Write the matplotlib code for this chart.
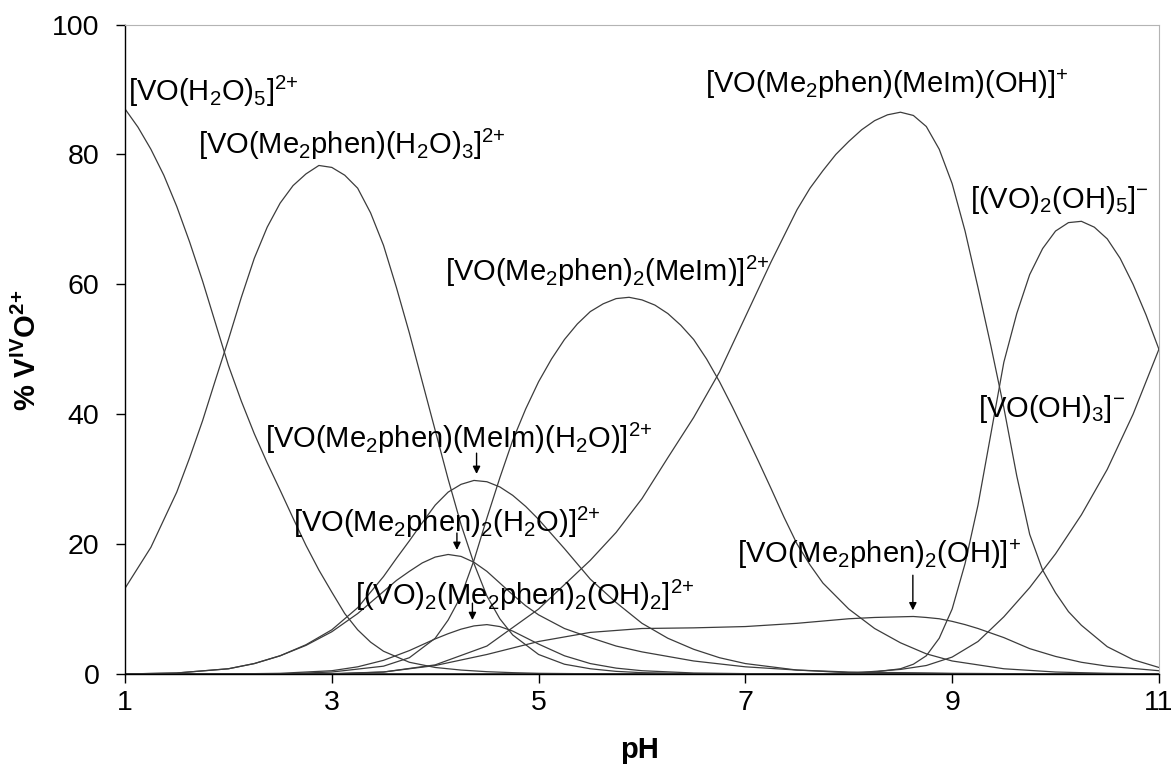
import matplotlib
matplotlib.use("Agg")
import matplotlib.pyplot as plt

plt.rcParams['font.family'] = ['Liberation Sans', 'DejaVu Sans']
plt.rcParams['mathtext.fontset'] = 'custom'
plt.rcParams['mathtext.rm'] = 'Liberation Sans'
plt.rcParams['mathtext.it'] = 'Liberation Sans'
plt.rcParams['mathtext.bf'] = 'Liberation Sans:bold'
plt.rcParams['mathtext.default'] = 'regular'

# each species: pH points and % VO
ph_a = [1.0, 1.125, 1.25, 1.375, 1.5, 1.625, 1.75, 1.875, 2.0, 2.125, 2.25, 2.375,
        2.5, 2.625, 2.75, 2.875, 3.0, 3.125, 3.25, 3.375, 3.5, 3.75, 4.0, 4.25,
        4.5, 4.75, 5.0, 5.5, 6.0, 11.0]
vo_h2o5 = [87, 84.2, 80.8, 76.8, 72, 66.5, 60.5, 54, 47.5, 42, 37, 32.5,
           28.3, 24, 19.8, 16, 12.6, 9.3, 6.8, 4.9, 3.5, 1.8, 1.0, 0.6,
           0.35, 0.2, 0.1, 0.03, 0, 0]

ph_b = [1.0, 1.25, 1.5, 1.625, 1.75, 1.875, 2.0, 2.125, 2.25, 2.375, 2.5, 2.625,
        2.75, 2.875, 3.0, 3.125, 3.25, 3.375, 3.5, 3.625, 3.75, 3.875, 4.0, 4.125,
        4.25, 4.375, 4.5, 4.625, 4.75, 5.0, 5.25, 5.5, 5.75, 6.0, 6.5, 7.0, 11.0]
vo_l_h2o3 = [13.2, 19.5, 28, 33.3, 39, 45.3, 51.5, 58, 64, 68.8, 72.5, 75.2,
             77, 78.3, 78.0, 76.8, 74.8, 71, 66, 59.5, 52.5, 45, 37.5, 30,
             23, 17, 12, 8.5, 6, 3, 1.5, 0.8, 0.4, 0.2, 0.05, 0, 0]

ph_c = [1.0, 1.5, 2.0, 2.25, 2.5, 2.75, 3.0, 3.25, 3.5, 3.625, 3.75, 3.875,
        4.0, 4.125, 4.25, 4.375, 4.5, 4.625, 4.75, 4.875, 5.0, 5.25, 5.5, 5.75,
        6.0, 6.25, 6.5, 6.75, 7.0, 7.5, 8.0, 9.0, 10.0, 11.0]
vo_l_meim_h2o = [0, 0.15, 0.8, 1.6, 2.8, 4.5, 6.8, 10.2, 15, 17.8, 20.5, 23.3,
                 26, 28, 29.2, 29.8, 29.6, 28.8, 27.5, 25.8, 23.8, 19.3, 14.6, 11,
                 7.8, 5.5, 3.8, 2.5, 1.6, 0.6, 0.2, 0.05, 0, 0]

ph_d = [1.0, 1.5, 2.0, 2.25, 2.5, 2.75, 3.0, 3.25, 3.5, 3.625, 3.75, 3.875,
        4.0, 4.125, 4.25, 4.375, 4.5, 4.625, 4.75, 4.875, 5.0, 5.25, 5.5, 5.75,
        6.0, 6.5, 7.0, 7.5, 8.0, 9.0, 10.0, 11.0]
vo_l2_h2o = [0, 0.15, 0.8, 1.6, 2.8, 4.4, 6.5, 9.3, 12.7, 14.4, 15.8, 17.1,
             18, 18.4, 18.1, 17.2, 15.8, 14, 12.2, 10.5, 9.1, 7, 5.6, 4.3,
             3.4, 2.0, 1.1, 0.6, 0.3, 0.1, 0, 0]

ph_e = [1.0, 2.0, 2.5, 3.0, 3.25, 3.5, 3.75, 4.0, 4.125, 4.25, 4.375, 4.5,
        4.625, 4.75, 4.875, 5.0, 5.25, 5.5, 5.75, 6.0, 6.5, 7.0, 7.5, 11.0]
vo2_l2_oh2 = [0, 0, 0.1, 0.5, 1.1, 2.1, 3.6, 5.4, 6.2, 6.9, 7.4, 7.6,
              7.3, 6.6, 5.6, 4.6, 2.8, 1.6, 0.9, 0.5, 0.15, 0.05, 0, 0]

ph_f = [1.0, 2.5, 3.0, 3.5, 3.75, 4.0, 4.125, 4.25, 4.375, 4.5, 4.625, 4.75,
        4.875, 5.0, 5.125, 5.25, 5.375, 5.5, 5.625, 5.75, 5.875, 6.0, 6.125, 6.25,
        6.375, 6.5, 6.625, 6.75, 6.875, 7.0, 7.125, 7.25, 7.375, 7.5, 7.625, 7.75,
        8.0, 8.25, 8.5, 8.75, 9.0, 9.5, 10.0, 10.5, 11.0]
vo_l2_meim = [0, 0, 0.3, 1.2, 2.5, 5.5, 8.3, 12, 17.5, 24, 30.2, 36,
              40.8, 45, 48.5, 51.5, 53.9, 55.8, 57, 57.8, 58, 57.6, 56.8, 55.5,
              53.7, 51.5, 48.5, 45, 41.1, 37, 32.8, 28.5, 24.1, 20, 16.8, 14,
              10, 7, 4.8, 3.1, 2.0, 0.8, 0.3, 0.1, 0]

ph_g = [1.0, 3.0, 3.5, 4.0, 4.5, 5.0, 5.5, 5.75, 6.0, 6.25, 6.5, 6.75,
        7.0, 7.25, 7.5, 7.625, 7.75, 7.875, 8.0, 8.125, 8.25, 8.375, 8.5, 8.625,
        8.75, 8.875, 9.0, 9.125, 9.25, 9.375, 9.5, 9.625, 9.75, 9.875, 10.0, 10.125,
        10.25, 10.5, 10.75, 11.0]
vo_l_meim_oh = [0, 0.05, 0.3, 1.4, 4.3, 10, 17.5, 21.8, 27, 33.3, 39.5, 46.5,
                55, 63.5, 71.5, 74.8, 77.5, 80, 82, 83.8, 85.2, 86.1, 86.5, 86,
                84.3, 80.8, 75.5, 68.2, 59.5, 50.5, 41, 30.5, 21.5, 16, 12.5, 9.6,
                7.5, 4.2, 2.2, 1.0]

ph_h = [1.0, 3.0, 3.5, 4.0, 4.5, 5.0, 5.5, 6.0, 6.5, 7.0, 7.5, 8.0,
        8.25, 8.5, 8.625, 8.75, 8.875, 9.0, 9.125, 9.25, 9.5, 9.75, 10.0, 10.25,
        10.5, 11.0]
vo_l2_oh = [0, 0, 0.3, 1.3, 3.0, 5.0, 6.4, 7.0, 7.1, 7.3, 7.8, 8.5,
            8.7, 8.8, 8.85, 8.7, 8.5, 8.1, 7.6, 7.0, 5.6, 3.9, 2.7, 1.8,
            1.2, 0.5]

ph_i = [1.0, 7.5, 8.0, 8.25, 8.5, 8.625, 8.75, 8.875, 9.0, 9.125, 9.25, 9.375,
        9.5, 9.625, 9.75, 9.875, 10.0, 10.125, 10.25, 10.375, 10.5, 10.625, 10.75, 10.875,
        11.0]
vo2_oh5 = [0, 0, 0.1, 0.3, 0.8, 1.5, 2.8, 5.5, 10, 17, 26, 37,
           48, 55.5, 61.5, 65.5, 68.2, 69.5, 69.7, 68.8, 67, 64, 60, 55.3,
           50]

ph_j = [1.0, 7.5, 8.0, 8.5, 8.75, 9.0, 9.25, 9.5, 9.75, 10.0, 10.25, 10.5,
        10.75, 11.0]
vo_oh3 = [0, 0, 0.1, 0.7, 1.3, 2.6, 5.0, 8.8, 13.3, 18.5, 24.5, 31.5,
          40, 50]

curves = [(ph_a, vo_h2o5), (ph_b, vo_l_h2o3), (ph_c, vo_l_meim_h2o),
          (ph_d, vo_l2_h2o), (ph_e, vo2_l2_oh2), (ph_f, vo_l2_meim),
          (ph_g, vo_l_meim_oh), (ph_h, vo_l2_oh), (ph_i, vo2_oh5), (ph_j, vo_oh3)]

# labels: text, left pH, baseline %
label_texts = [
    r'[VO(H$_2$O)$_5$]$^{2{+}}$',
    r'[VO(Me$_2$phen)(H$_2$O)$_3$]$^{2{+}}$',
    r'[VO(Me$_2$phen)(MeIm)(OH)]$^{+}$',
    r'[(VO)$_2$(OH)$_5$]$^{-}$',
    r'[VO(Me$_2$phen)$_2$(MeIm)]$^{2{+}}$',
    r'[VO(OH)$_3$]$^{-}$',
    r'[VO(Me$_2$phen)(MeIm)(H$_2$O)]$^{2{+}}$',
    r'[VO(Me$_2$phen)$_2$(H$_2$O)]$^{2{+}}$',
    r'[(VO)$_2$(Me$_2$phen)$_2$(OH)$_2$]$^{2{+}}$',
    r'[VO(Me$_2$phen)$_2$(OH)]$^{+}$',
]
label_x = [1.03, 1.71, 6.61, 9.17, 4.09, 9.25, 2.35, 2.62, 3.22, 6.92]
label_y = [88.3, 80.1, 89.4, 71.7, 60.5, 39.5, 34.8, 21.8, 10.6, 17.1]

# arrows: x, start %, end %
arrow_x = [4.40, 4.21, 4.36, 8.62]
arrow_y0 = [34.0, 21.7, 10.9, 15.2]
arrow_y1 = [30.8, 19.1, 8.3, 9.8]

fig = plt.figure(figsize=(11.73, 7.67), dpi=100)
ax = fig.add_axes([0.1066, 0.1213, 0.8814, 0.8467])

for x, y in curves:
    ax.plot(x, y, color='#3c3c3c', linewidth=0.9)

for t, x, y in zip(label_texts, label_x, label_y):
    ax.text(x, y, t, fontsize=21, ha='left', va='baseline', color='black')

for x, y0, y1 in zip(arrow_x, arrow_y0, arrow_y1):
    ax.annotate('', xy=(x, y1), xytext=(x, y0),
                arrowprops=dict(arrowstyle='-|>', color='black', lw=1,
                                mutation_scale=11, shrinkA=0, shrinkB=0))

ax.set_xlim(1, 11)
ax.set_ylim(0, 100)
ax.set_xticks([1, 3, 5, 7, 9, 11])
ax.set_yticks([0, 20, 40, 60, 80, 100])
ax.tick_params(direction='out', length=6.5, width=1, labelsize=20.5)
ax.tick_params(axis='y', pad=12)
ax.tick_params(axis='x', pad=5)
ax.spines['top'].set_color('#b4b4b4')
ax.spines['right'].set_color('#b4b4b4')
ax.spines['left'].set_linewidth(1)
ax.spines['bottom'].set_linewidth(1)

fig.text(640 / 1173, 1 - 750 / 767, 'pH', fontsize=21, fontweight='bold',
         ha='center', va='center')
fig.text(27 / 1173, 1 - 350 / 767, r'% V$^{\mathbf{IV}}$O$^{\mathbf{2{+}}}$',
         fontsize=21, fontweight='bold', rotation=90, ha='center', va='center')

fig.savefig('out.png', dpi=100)
